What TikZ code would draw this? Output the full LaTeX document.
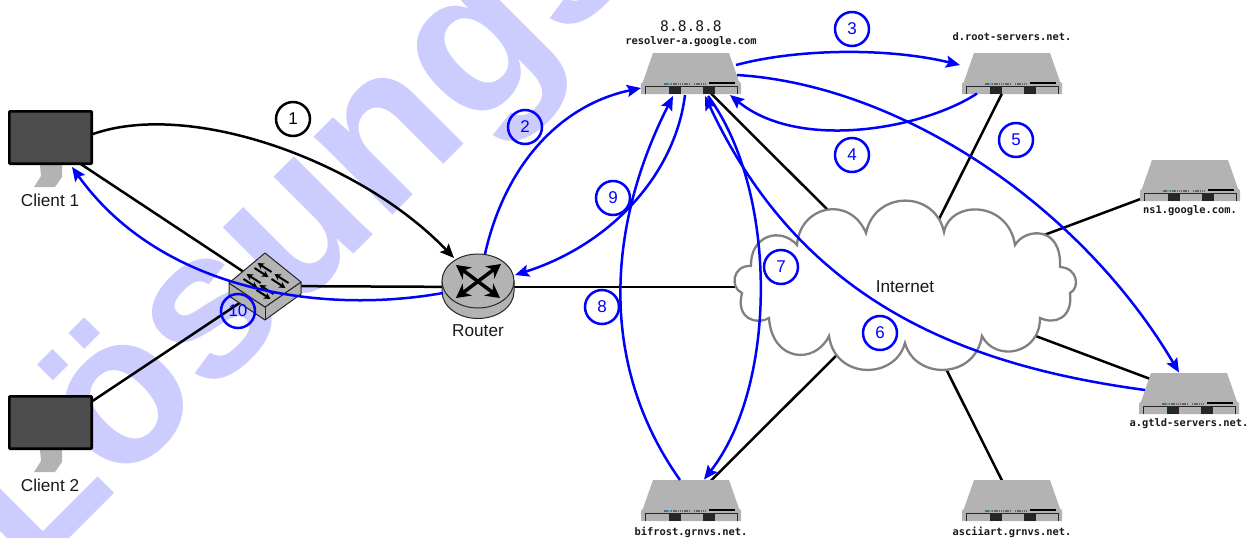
\documentclass[tikz,border=0pt]{standalone}
\usepackage{fontspec}
\setmainfont{Liberation Sans}
\newfontfamily\srvfont{DejaVu Sans Mono}
\usetikzlibrary{arrows.meta}
\definecolor{devgray}{HTML}{B3B3B3}
\definecolor{screen}{HTML}{4D4D4D}
\definecolor{mark}{HTML}{CCCCFF}
\definecolor{cloudline}{HTML}{808080}
\tikzset{
  link/.style={black,line width=2.5pt},
  flow/.style={blue,line width=2.5pt,-{Stealth[length=14pt,width=12pt,inset=2.5pt]}},
  blackflow/.style={black,line width=2.5pt,-{Stealth[length=14pt,width=12pt,inset=2.5pt]}},
  stepmark/.style={circle,draw=blue,text=blue,line width=2.5pt,minimum size=34pt,inner sep=0pt,font=\fontsize{17}{20}\selectfont},
  lbl/.style={inner sep=0pt,font=\fontsize{17.2}{20}\selectfont,text=black!90},
  srvname/.style={inner sep=0pt,font=\srvfont\bfseries\fontsize{10.4}{12}\selectfont,text=black!90},
  routerarrow/.style={black,line width=3.5pt,{Stealth[length=14pt,width=15pt]}-{Stealth[length=14pt,width=15pt]}},
  swarrow/.style={black,line width=2pt,-{Stealth[length=6.5pt,width=7pt]}},
}
\newcommand{\serverart}[2]{%
  \begin{scope}[shift={(#1,#2)}]
    \fill[devgray] (-38,-20.5) -- (38,-20.5) -- (48,8) -- (50,10) -- (50,20.5) -- (-50,20.5) -- (-50,10) -- (-48,8) -- cycle;
    \draw[black!85,line width=1pt] (-46,20) -- (-46,12.5) -- (46,12.5) -- (46,20);
    \fill[black!85] (-22,13) rectangle (-10,20);
    \fill[black!85] (12,13) rectangle (24,20);
    \draw[black!60,line width=2pt,dash pattern=on 1.3pt off 0.9pt] (-20,10) -- (-1,10);
    \draw[black!60,line width=2pt] (-27,10) -- (-23,10);
    \draw[cyan!60!gray,line width=2pt] (-23,10) -- (-20,10);
    \draw[black!60,line width=2pt,dash pattern=on 1.3pt off 0.9pt] (3,10) -- (16,10);
    \draw[black,line width=1.2pt] (18,9.5) -- (44,9.5);
  \end{scope}}
\newcommand{\monitorart}[1]{%
  \begin{scope}[shift={(0,#1)}]
    \fill[devgray] (40,55) -- (62,55) -- (62,67) -- (55,77) -- (34,77) -- (41,66) -- cycle;
    \draw[black,fill=screen,line width=2.6pt,rounded corners=0.8pt] (9.3,1.3) rectangle (91.7,53.7);
  \end{scope}}
\begin{document}
\begin{tikzpicture}[x=1pt,y=-1pt]
\useasboundingbox (0,0) rectangle (1251,538);
% watermark
\begin{scope}
  \clip (0,0) rectangle (1251,538);
  \node[anchor=base west,rotate=45,inner sep=0pt,text=mark,font=\bfseries\fontsize{210}{210}\selectfont] (watermark) at (28,580) {Lösungs};
\end{scope}
% anchors
\node[inner sep=0pt,minimum width=85pt,minimum height=66pt] (client1) at (50.5,144) {};
\node[inner sep=0pt,minimum width=85pt,minimum height=66pt] (client2) at (50.5,429) {};
\node[inner sep=0pt,minimum width=72pt,minimum height=38pt] (switch) at (265,286) {};
\node[inner sep=0pt,minimum width=72pt,minimum height=66pt] (router) at (478,287) {};
\coordinate (cloud) at (905,287);
\node[inner sep=0pt,minimum width=100pt,minimum height=41pt] (resolver) at (691,73.5) {};
\node[inner sep=0pt,minimum width=100pt,minimum height=41pt] (droot) at (1012,73.5) {};
\node[inner sep=0pt,minimum width=100pt,minimum height=41pt] (nsone) at (1190,180.5) {};
\node[inner sep=0pt,minimum width=100pt,minimum height=41pt] (gtld) at (1189,393.5) {};
\node[inner sep=0pt,minimum width=100pt,minimum height=41pt] (bifrost) at (691,500.5) {};
\node[inner sep=0pt,minimum width=100pt,minimum height=41pt] (asciiart) at (1012,500.5) {};
% black links
\draw[link] (client1.center) -- (switch.center);
\draw[link] (client2.center) -- (switch.center);
\draw[link] (switch.center) -- (router.center);
\draw[link] (router.center) -- (cloud);
\draw[link] (resolver.center) -- (cloud);
\draw[link] (droot.center) -- (cloud);
\draw[link] (nsone.center) -- (cloud);
\draw[link] (gtld.center) -- (cloud);
\draw[link] (bifrost.center) -- (cloud);
\draw[link] (asciiart.center) -- (cloud);
% cloud
\draw[cloudline,fill=white,line width=2.3pt,line join=miter]
 (751,266) .. controls (750,236) and (780,226) .. (797,245)
 .. controls (800,205) and (850,195) .. (866,233)
 .. controls (875,190) and (935,190) .. (944,232)
 .. controls (950,200) and (1008,200) .. (1015,245)
 .. controls (1025,228) and (1062,225) .. (1060,267)
 .. controls (1078,268) and (1080,288) .. (1070,293)
 .. controls (1073,318) and (1055,325) .. (1040,318)
 .. controls (1040,355) and (995,362) .. (982,336)
 .. controls (975,380) and (915,380) .. (905,343)
 .. controls (895,380) and (835,380) .. (829,336)
 .. controls (815,365) and (772,362) .. (769,318)
 .. controls (758,325) and (735,320) .. (742,293)
 .. controls (730,288) and (732,265) .. (751,266) -- cycle;
\node[lbl] (internet) at (cloud) {Internet};
% devices
\monitorart{110}
\monitorart{395}
\foreach \sx/\sy in {691/73.5,1012/73.5,1190/180.5,1189/393.5,691/500.5,1012/500.5}{\serverart{\sx}{\sy}}
% switch
\draw[black!85,fill=devgray,line width=1pt,line join=round] (229,283) -- (265,307) -- (301,282) -- (301,294) -- (265,320) -- (229,296) -- cycle;
\draw[black!85,line width=1pt] (265,307) -- (265,320);
\draw[black!85,fill=devgray,line width=1pt,line join=round] (265,253) -- (301,282) -- (265,307) -- (229,283) -- cycle;
\foreach \ax/\ay in {263/270,252/281,280/281,265/292}{
  \draw[swarrow] (\ax+8.5,\ay+2) -- (\ax-5.5,\ay-7);
  \draw[swarrow] (\ax-8.5,\ay-2) -- (\ax+5.5,\ay+7);
}
% router
\draw[black!85,fill=devgray,line width=1pt] (442,281) -- (442,291.5) arc[start angle=180,delta angle=-180,x radius=36,y radius=27] -- (514,281) -- cycle;
\draw[black!85,fill=devgray,line width=1pt] (478,281) ellipse[x radius=36,y radius=27];
\draw[routerarrow] (456,265) -- (500,298);
\draw[routerarrow] (456,298) -- (501,264);
% labels
\node[lbl] (client1label) at (50,200) {Client 1};
\node[lbl] (client2label) at (50,485) {Client 2};
\node[lbl] (routerlabel) at (478,331) {Router};
\node[inner sep=0pt,font=\srvfont\fontsize{14.6}{16}\selectfont,text=black!90] (ip) at (691,26) {8.8.8.8};
\node[srvname] (resolverlabel) at (691,42) {resolver-a.google.com};
\node[srvname] (drootlabel) at (1012,37) {d.root-servers.net.};
\node[srvname] (nsonelabel) at (1190,211) {ns1.google.com.};
\node[srvname] (gtldlabel) at (1189,424) {a.gtld-servers.net.};
\node[srvname] (bifrostlabel) at (691,532) {bifrost.grnvs.net.};
\node[srvname] (asciilabel) at (1012,532) {asciiart.grnvs.net.};
% flows
\draw[blackflow] ([shift={(42.5,-10)}]client1.center) .. controls (190,100) and (360,160) .. ([shift={(-24,-29)}]router.center);
\draw[flow] ([shift={(7,-33)}]router.center) .. controls (505,165) and (560,105) .. ([shift={(-50,14.5)}]resolver.center);
\draw[flow] ([shift={(45,-8.5)}]resolver.center) .. controls (800,48) and (890,48) .. ([shift={(-52,-8.5)}]droot.center);
\draw[flow] ([shift={(-35,20)}]droot.center) .. controls (925,128) and (800,152) .. ([shift={(39,21.5)}]resolver.center);
\draw[flow] ([shift={(46,1.5)}]resolver.center) .. controls (900,85) and (1080,205) .. ([shift={(-10,-21)}]gtld.center);
\draw[flow] ([shift={(-44,-3.5)}]gtld.center) .. controls (960,365) and (800,300) .. ([shift={(14,22.5)}]resolver.center);
\draw[flow] ([shift={(17,22.5)}]resolver.center) .. controls (778,190) and (778,385) .. ([shift={(13,-21)}]bifrost.center);
\draw[flow] ([shift={(-11,-20.5)}]bifrost.center) .. controls (595,360) and (610,220) .. ([shift={(-18,22.5)}]resolver.center);
\draw[flow] ([shift={(-6,21.5)}]resolver.center) .. controls (675,175) and (610,245) .. ([shift={(37,-12)}]router.center);
\draw[flow] ([shift={(-35,6)}]router.center) .. controls (320,315) and (160,290) .. ([shift={(21.5,23)}]client1.center);
% step marks
\node[stepmark,draw=black,text=black] (s1) at (293,119) {1};
\node[stepmark] (s2) at (525,127) {2};
\node[stepmark] (s3) at (852,29) {3};
\node[stepmark] (s4) at (852,155) {4};
\node[stepmark] (s5) at (1016,140) {5};
\node[stepmark] (s6) at (880,333) {6};
\node[stepmark] (s7) at (781,267) {7};
\node[stepmark] (s8) at (602,307) {8};
\node[stepmark] (s9) at (613,198) {9};
\node[stepmark] (s10) at (238,311) {10};
\end{tikzpicture}
\end{document}
